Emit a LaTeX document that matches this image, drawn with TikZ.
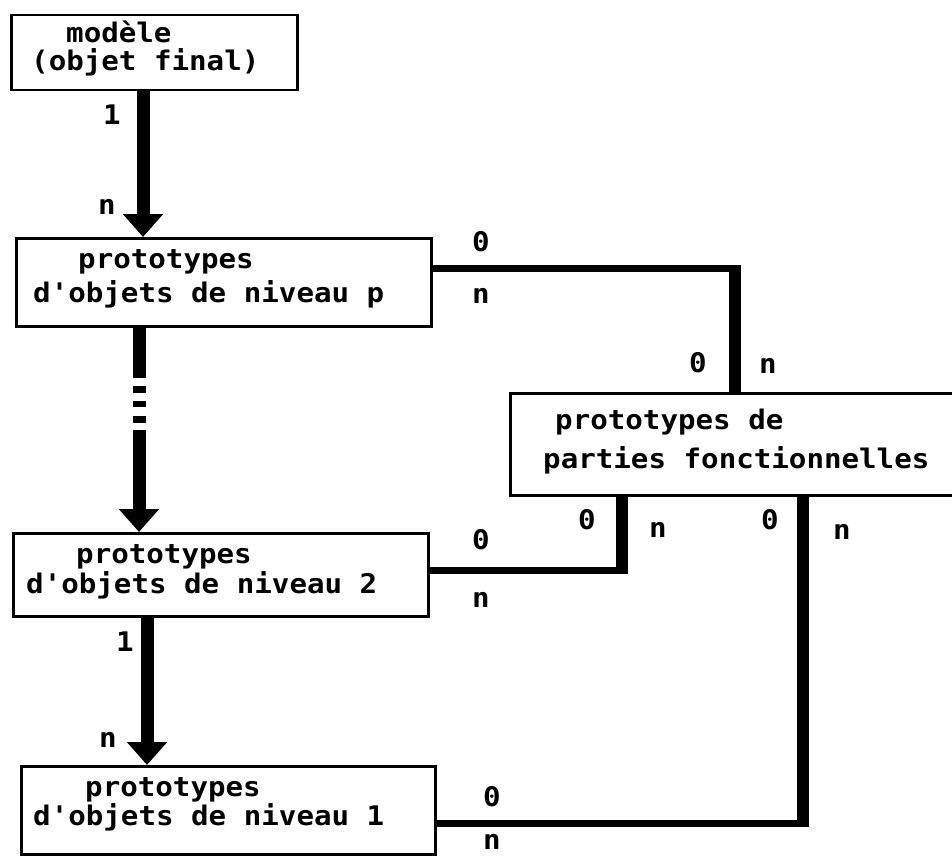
\documentclass[tikz,border=0pt]{standalone}
\usepackage{fontspec}
\setmonofont[FakeStretch=1.08]{DejaVu Sans Mono}
\usetikzlibrary{arrows.meta}
\begin{document}
\begin{tikzpicture}[x=1pt,y=-1pt,
  box/.style={draw,line width=2.5pt,inner sep=0pt,anchor=north west},
  txt/.style={inner sep=0pt,anchor=base west,font=\ttfamily\bfseries\fontsize{27}{27}\selectfont},
  lbl/.style={inner sep=0pt,anchor=center,font=\ttfamily\bfseries\fontsize{27}{27}\selectfont},
  bigarrow/.style={line width=13pt,-{Triangle[width=39pt,length=23pt]}},
  hline/.style={line width=7pt},
  vline/.style={line width=12pt}]
\useasboundingbox (0,0) rectangle (952,856);
% boxes
\node[box,minimum width=286pt,minimum height=75pt] (b1) at (10,14) {};
\node[box,minimum width=415pt,minimum height=88pt] (b2) at (15,237) {};
\node[box,minimum width=480pt,minimum height=102pt] (b3) at (509,392) {};
\node[box,minimum width=415pt,minimum height=83pt] (b4) at (12,532) {};
\node[box,minimum width=414pt,minimum height=88pt] (b5) at (20,765) {};
% texts
\node[txt] (t1a) at (66,43) {modèle};
\node[txt] (t1b) at (31,71) {(objet final)};
\node[txt] (t2a) at (78,268) {prototypes};
\node[txt] (t2b) at (33,302) {d'objets de niveau p};
\node[txt] (t3a) at (555,429) {prototypes de};
\node[txt] (t3b) at (543,468) {parties fonctionnelles};
\node[txt] (t4a) at (76,563) {prototypes};
\node[txt] (t4b) at (26,593) {d'objets de niveau 2};
\node[txt] (t5a) at (85,796) {prototypes};
\node[txt] (t5b) at (33,825) {d'objets de niveau  1};
% vertical arrows
\draw[bigarrow] ([xshift=133pt]b1.south west) -- ([xshift=133pt]b1.south west |- b2.north);
\draw[bigarrow,dash pattern=on 50pt off 8pt on 7pt off 8pt on 6pt off 9pt on 7pt off 7pt on 300pt]
  ([xshift=124pt]b2.south west) -- ([xshift=124pt]b2.south west |- b4.north);
\draw[bigarrow] ([xshift=135pt]b4.south west) -- ([xshift=135pt]b4.south west |- b5.north);
% connectors to b3
\coordinate (k1) at (735,268);
\coordinate (k2) at (622,570);
\coordinate (k3) at (803,823);
\draw[hline] ([yshift=-31pt]b2.north east) -- (k1);
\draw[vline] ([yshift=3.5pt]k1) -- (k1 |- b3.north);
\draw[hline] ([yshift=-38pt]b4.north east) -- (k2);
\draw[vline] ([yshift=-3.5pt]k2) -- (k2 |- b3.south);
\draw[hline] ([yshift=-58pt]b5.north east) -- (k3);
\draw[vline] ([yshift=-3.5pt]k3) -- (k3 |- b3.south);
% labels
\node[lbl] (l1) at (112,115) {1};
\node[lbl] (l2) at (107,207) {n};
\node[lbl] (l3) at (481,242) {0};
\node[lbl] (l4) at (481,296) {n};
\node[lbl] (l5) at (698,363) {0};
\node[lbl] (l6) at (768,366) {n};
\node[lbl] (l7) at (587,520) {0};
\node[lbl] (l8) at (658,530) {n};
\node[lbl] (l9) at (770,520) {0};
\node[lbl] (l10) at (842,532) {n};
\node[lbl] (l11) at (481,540) {0};
\node[lbl] (l12) at (481,600) {n};
\node[lbl] (l13) at (492,797) {0};
\node[lbl] (l14) at (492,842) {n};
\node[lbl] (l15) at (125,642) {1};
\node[lbl] (l16) at (108,740) {n};
\end{tikzpicture}
\end{document}
